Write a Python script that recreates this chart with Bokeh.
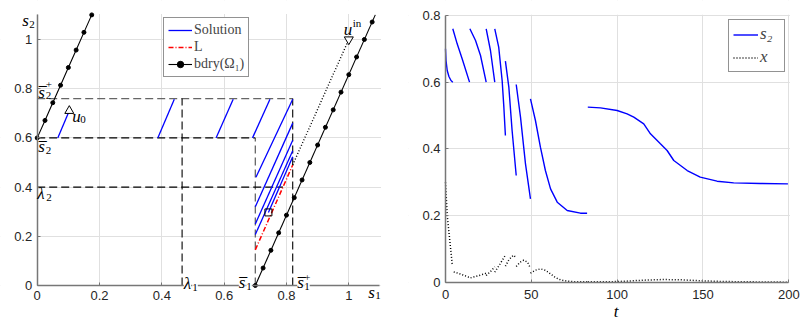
from bokeh.plotting import figure
from bokeh.layouts import row
from bokeh.models import (Label, Legend, LegendItem, FixedTicker, Range1d,
                          CustomJSTickFormatter, BoxAnnotation)
from bokeh.embed import file_html
from bokeh.resources import INLINE

SANS = "Liberation Sans"
SERIF = "Liberation Serif"
AXIS_GRAY = "#777777"
TICK_TXT = "#262626"
GRID = "#e0e0e0"
BLUE = "#0000ff"
RED = "#ff0000"
GUIDE_DARK = "#000000"
GUIDE_GRAY = "#666666"

# ---------------- left panel: phase plane (s1, s2) ----------------
s1_bar = 0.70
s1_bar_plus = 0.82
s2_bar = 0.60
s2_bar_plus = 0.76
lambda_1 = 0.465
lambda_2 = 0.40

u0 = (0.103, 0.710)
u_in = (1.000, 1.000)
equilibrium = (0.742, 0.297)

sol_s1 = [[0.066, 0.103], [0.387, 0.440], [0.574, 0.629], [0.691, 0.747],
          [0.820, 0.702], [0.820, 0.700], [0.820, 0.700], [0.820, 0.700], [0.820, 0.742]]
sol_s2 = [[0.600, 0.710], [0.600, 0.757], [0.600, 0.757], [0.600, 0.757],
          [0.757, 0.440], [0.660, 0.320], [0.590, 0.250], [0.548, 0.207], [0.523, 0.297]]

L_s1 = [0.700, 0.820]
L_s2 = [0.145, 0.490]

uin_path_s1 = [0.820, 1.000]
uin_path_s2 = [0.490, 1.000]

bdry_a_s1 = [0.000, 0.025, 0.050, 0.075, 0.100, 0.125, 0.150, 0.175]
bdry_a_s2 = [0.600, 0.671, 0.743, 0.814, 0.886, 0.957, 1.029, 1.100]
bdry_b_s1 = [0.700, 0.725, 0.750, 0.775, 0.800, 0.825, 0.850, 0.875,
             0.900, 0.925, 0.950, 0.975, 1.000, 1.025, 1.050, 1.075]
bdry_b_s2 = [0.000, 0.071, 0.143, 0.214, 0.286, 0.357, 0.429, 0.500,
             0.571, 0.643, 0.714, 0.786, 0.857, 0.929, 1.000, 1.071]
bdry_b_end = (1.085, 1.100)

left_ticks = [0, 0.2, 0.4, 0.6, 0.8, 1]
left_axis_max = 1.1

# ---------------- right panel: time series ----------------
t_s2 = [
    [0.0, 0.3, 1.0, 2.0, 3.2, 4.25],
    [4.25, 6.8, 9.7, 14.0],
    [14.2, 17.5, 20.4, 23.7],
    [23.7, 26.2, 28.7],
    [28.7, 31.0, 33.0, 34.0, 34.9],
    [34.9, 36.9, 38.8, 41.2],
    [41.2, 43.7, 46.6, 49.5],
    [49.5, 52.4, 55.3, 58.2, 61.2, 65.1, 70.9, 78.6, 82.5],
    [82.9, 90.3, 100.0, 105.8, 109.7, 115.5, 119.4, 125.2, 129.1, 133.0,
     140.8, 148.4, 158.2, 167.9, 183.4, 199.5],
]
s2_vals = [
    [0.700, 0.665, 0.635, 0.617, 0.605, 0.600],
    [0.760, 0.715, 0.670, 0.600],
    [0.760, 0.725, 0.680, 0.600],
    [0.760, 0.695, 0.600],
    [0.760, 0.705, 0.605, 0.525, 0.440],
    [0.663, 0.585, 0.455, 0.320],
    [0.593, 0.495, 0.355, 0.250],
    [0.550, 0.485, 0.405, 0.335, 0.280, 0.240, 0.215, 0.207, 0.207],
    [0.525, 0.523, 0.515, 0.505, 0.495, 0.475, 0.445, 0.415, 0.395, 0.365,
     0.335, 0.315, 0.303, 0.298, 0.296, 0.295],
]
t_x = [
    [0.0, 1.0, 2.5, 3.9, 4.5],
    [4.8, 9.0, 14.6],
    [14.6, 19.0, 23.7],
    [23.7, 26.2, 28.7],
    [28.7, 31.8, 34.9],
    [34.9, 37.0, 39.6, 41.2],
    [41.2, 43.5, 45.6, 47.8, 49.5],
    [49.5, 52.4, 55.3, 58.2, 61.2, 64.0, 67.0, 71.0, 76.0, 82.5],
    [82.9, 95.0, 105.0, 115.0, 127.0, 138.0, 150.0, 162.0, 180.0, 200.0],
]
x_vals = [
    [0.300, 0.200, 0.125, 0.055, 0.050],
    [0.031, 0.024, 0.013],
    [0.013, 0.019, 0.027],
    [0.020, 0.032, 0.046],
    [0.030, 0.055, 0.081],
    [0.048, 0.068, 0.081, 0.074],
    [0.047, 0.060, 0.066, 0.060, 0.042],
    [0.027, 0.036, 0.040, 0.036, 0.025, 0.014, 0.007, 0.003, 0.001, 0.001],
    [0.001, 0.001, 0.003, 0.006, 0.008, 0.007, 0.004, 0.002, 0.001, 0.000],
]
right_xticks = [0, 50, 100, 150, 200]
right_yticks = [0, 0.2, 0.4, 0.6, 0.8]
right_t_max = 200
right_y_max = 0.8


def style_axes(p, xticks, yticks, xmax, ymax):
    p.outline_line_color = None
    p.background_fill_color = "white"
    p.border_fill_color = "white"
    p.xaxis.fixed_location = 0
    p.yaxis.fixed_location = 0
    p.xaxis.bounds = (0, xmax)
    p.yaxis.bounds = (0, ymax)
    p.xaxis.ticker = FixedTicker(ticks=xticks)
    p.yaxis.ticker = FixedTicker(ticks=yticks)
    for ax in (p.xaxis[0], p.yaxis[0]):
        ax.formatter = CustomJSTickFormatter(code="return String(tick)")
        ax.axis_line_color = AXIS_GRAY
        ax.axis_line_width = 1.5
        ax.major_tick_line_color = AXIS_GRAY
        ax.major_tick_line_width = 1
        ax.major_tick_in = 3
        ax.major_tick_out = 0
        ax.minor_tick_line_color = None
        ax.major_label_text_font = SANS
        ax.major_label_text_font_size = "13px"
        ax.major_label_text_color = TICK_TXT
    p.xaxis.major_label_standoff = 6
    p.yaxis.major_label_standoff = 5
    for g in (p.xgrid[0], p.ygrid[0]):
        g.grid_line_color = GRID
        g.level = "image"
    # white masks so that grid lines stop at the axis box
    eps_x = xmax * 0.003
    eps_y = ymax * 0.003
    for kw in (dict(right=0), dict(top=0), dict(left=xmax + eps_x), dict(bottom=ymax + eps_y)):
        p.add_layout(BoxAnnotation(fill_color="white", fill_alpha=1, line_color=None,
                                   level="underlay", **kw))


def put(p, x, y, dx, dy, text, size, italic=False, bg=False, align="left"):
    # small upward correction: the browser sets the alphabetic baseline a little low
    lab = Label(x=x, y=y, x_offset=dx, y_offset=dy + 0.3 * size, text=text,
                text_font=SERIF, text_font_size=f"{size}px",
                text_font_style="italic" if italic else "normal",
                text_color="black", text_align=align, text_baseline="alphabetic")
    if bg:
        lab.background_fill_color = "white"
    p.add_layout(lab)


def math(p, x, y, dx, dy, base, sub=None, sup=None, bw=7, bar=False, bg=False,
         sub_dy=-2, sup_dy=9):
    put(p, x, y, dx, dy, base, 17, italic=True, bg=bg)
    if bar:
        put(p, x, y, dx + 0.5, dy + 12.5, "_", 16)
    if sub:
        put(p, x, y, dx + bw, dy + sub_dy, sub, 11, bg=bg)
    if sup:
        put(p, x, y, dx + bw, dy + sup_dy, sup, 11)


# ================= left figure =================
p1 = figure(frame_width=408, frame_height=320, min_border=0,
            x_range=Range1d(-0.1178, 1.1916), y_range=Range1d(-0.1423, 1.1585),
            output_backend="svg", toolbar_location=None)
style_axes(p1, left_ticks, left_ticks, left_axis_max, left_axis_max)

L_at_lambda2 = L_s1[0] + (lambda_2 - L_s2[0]) * (L_s1[1] - L_s1[0]) / (L_s2[1] - L_s2[0])
dark_xs = [[0, s1_bar], [0, L_at_lambda2], [lambda_1, lambda_1], [s1_bar_plus, s1_bar_plus]]
dark_ys = [[s2_bar, s2_bar], [lambda_2, lambda_2], [0, s2_bar_plus], [0, s2_bar_plus]]
gray_xs = [[0, s1_bar_plus], [s1_bar, s1_bar]]
gray_ys = [[s2_bar_plus, s2_bar_plus], [0, s2_bar]]
p1.multi_line(xs=gray_xs, ys=gray_ys, line_color=GUIDE_GRAY, line_width=1.3, line_dash="8 4")
p1.multi_line(xs=dark_xs, ys=dark_ys, line_color=GUIDE_DARK, line_width=1.1, line_dash="8 4")

r_sol = p1.multi_line(xs=sol_s1, ys=sol_s2, line_color=BLUE, line_width=1.3)
r_L = p1.line(L_s1, L_s2, line_color=RED, line_width=1.5, line_dash="5 2 1 2")
p1.line(uin_path_s1, uin_path_s2, line_color="black", line_width=1.4, line_dash="1 2")

r_bl = p1.multi_line(xs=[bdry_a_s1, bdry_b_s1[:1] + [bdry_b_end[0]]],
                     ys=[bdry_a_s2, bdry_b_s2[:1] + [bdry_b_end[1]]],
                     line_color="black", line_width=1.1)
r_bd = p1.scatter(bdry_a_s1 + bdry_b_s1, bdry_a_s2 + bdry_b_s2, marker="circle",
                  size=4, fill_color="black", line_color="black")

p1.scatter([u0[0]], [u0[1]], marker="triangle", size=9, fill_color="white",
           line_color="black", line_width=1)
p1.scatter([u_in[0]], [u_in[1]], marker="inverted_triangle", size=9, fill_color="white",
           line_color="black", line_width=1)
p1.scatter([equilibrium[0]], [equilibrium[1]], marker="square", size=7, fill_alpha=0,
           line_color="black", line_width=1)

leg1 = Legend(items=[LegendItem(label="Solution", renderers=[r_sol]),
                     LegendItem(label="L", renderers=[r_L]),
                     LegendItem(label="bdry(\u03a9\u2081)", renderers=[r_bl, r_bd])],
              location=(163, 243))
leg1.border_line_color = "#262626"
leg1.border_line_width = 1
leg1.background_fill_color = "white"
leg1.background_fill_alpha = 1
leg1.label_text_font = SERIF
leg1.label_text_font_size = "14px"
leg1.glyph_width = 24
leg1.glyph_height = 16
leg1.label_height = 16
leg1.spacing = 1
leg1.padding = 4
leg1.margin = 0
leg1.label_standoff = 2
p1.add_layout(leg1)

# math labels
math(p1, 0, left_axis_max, -15, -10.6, "s", sub="2", bw=7)
math(p1, left_axis_max, 0, -11.7, -11.7, "s", sub="1", bw=7)
math(p1, 0, s2_bar_plus, 1, 1.3, "s", sub="2", sup="+", bw=7.5, bar=True)
math(p1, 0, s2_bar, 1, -13.6, "s", sub="2", bw=7.5, bar=True)
math(p1, 0, lambda_2, 0, -11.7, "\u03bb", sub="2", bw=9)
math(p1, lambda_1, 0, 1.7, -3.3, "\u03bb", sub="1", bw=8.5, bg=True)
math(p1, s1_bar, 0, -16.5, -2, "s", sub="1", bw=7.5, bar=True, bg=True)
math(p1, s1_bar_plus, 0, 4.5, -2, "s", sub="1", sup="+", bw=7, bar=True, bg=True, sup_dy=7)
math(p1, u0[0], u0[1], 3, -10.4, "u", sub="0", bw=8)
math(p1, u_in[0], u_in[1], -5, 5, "u", sup="in", bw=9, sup_dy=8)

# ================= right figure =================
p2 = figure(frame_width=400, frame_height=320, min_border=0,
            x_range=Range1d(-21.556, 211.48), y_range=Range1d(-0.11488, 0.84494),
            output_backend="svg", toolbar_location=None)
style_axes(p2, right_xticks, right_yticks, right_t_max, right_y_max)
p2.xaxis.major_label_standoff = 8

r_s2 = p2.multi_line(xs=t_s2, ys=s2_vals, line_color=BLUE, line_width=1.4)
r_x = p2.multi_line(xs=t_x, ys=x_vals, line_color="black", line_width=1.5, line_dash="1 2")

leg2 = Legend(items=[LegendItem(label="s\u2082", renderers=[r_s2]),
                     LegendItem(label="x", renderers=[r_x])],
              location=(320, 248))
leg2.border_line_color = "#262626"
leg2.border_line_width = 1
leg2.background_fill_color = "white"
leg2.background_fill_alpha = 1
leg2.label_text_font = SERIF
leg2.label_text_font_style = "italic"
leg2.label_text_font_size = "17px"
leg2.glyph_width = 25
leg2.glyph_height = 19
leg2.label_height = 19
leg2.spacing = 3
leg2.padding = 4
leg2.margin = 0
leg2.label_standoff = 2
p2.add_layout(leg2)

put(p2, 100, 0, -1, -34.5, "t", 17, italic=True, align="center")

layout = row(p1, p2)
open("out.html", "w").write(file_html(layout, INLINE))
